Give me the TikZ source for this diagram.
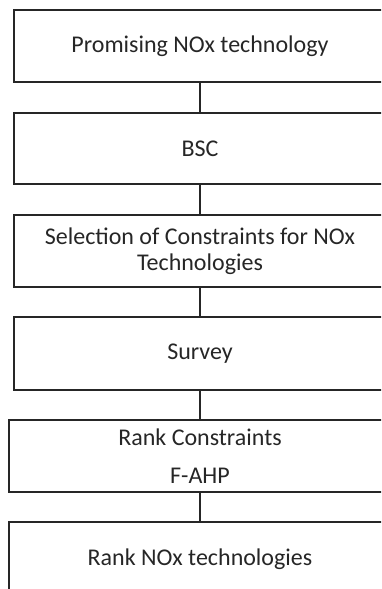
\documentclass[tikz,border=0pt]{standalone}
\usepackage{fontspec}
\setmainfont{Carlito}
\begin{document}
\begin{tikzpicture}[x=1pt,y=-1pt,
  stepbox/.style={draw=black!85,line width=1.6pt,rectangle,inner sep=0pt,align=center,
    font=\fontsize{24}{26}\selectfont,text=black!85},
  link/.style={draw=black!85,line width=1.6pt}]
\useasboundingbox (0,0) rectangle (381,589);
\clip (0,0) rectangle (381,589);
\node[stepbox,minimum width=372pt,minimum height=72pt] (a) at (200,46) {Promising NOx technology};
\node[stepbox,minimum width=372pt,minimum height=71pt] (b) at (200,148.5) {BSC};
\node[stepbox,minimum width=372pt,minimum height=72pt] (c) at (200,251) {Selection of Constraints for NOx\\Technologies};
\node[stepbox,minimum width=372pt,minimum height=73pt] (d) at (200,353.5) {Survey};
\node[stepbox,minimum width=382pt,minimum height=72pt] (e) at (200,456) {Rank Constraints\\[12pt]F-AHP};
\node[stepbox,minimum width=382pt,minimum height=74pt] (f) at (200,559) {Rank NOx technologies};
\draw[link] (a) -- (b);
\draw[link] (b) -- (c);
\draw[link] (c) -- (d);
\draw[link] (d) -- (e);
\draw[link] (e) -- (f);
\end{tikzpicture}
\end{document}
